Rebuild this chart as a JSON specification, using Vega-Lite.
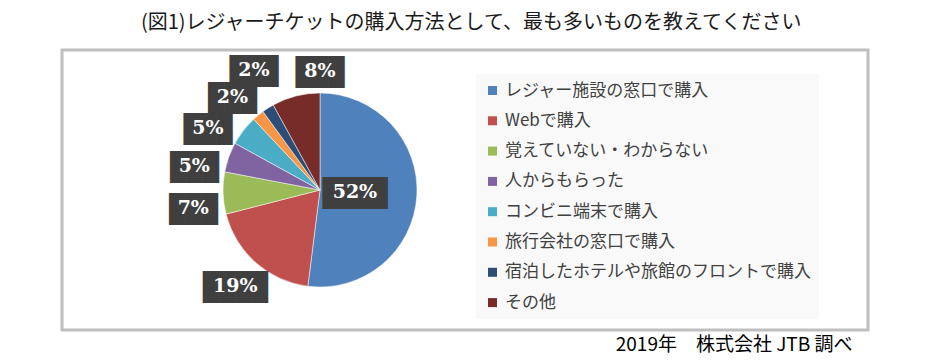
{
  "$schema": "https://vega.github.io/schema/vega-lite/v6.json",
  "autosize": "none",
  "width": 806,
  "height": 280,
  "padding": {"left": 62, "top": 50, "right": 66, "bottom": 31},
  "background": "#ffffff",
  "title": {
    "text": "(図1)レジャーチケットの購入方法として、最も多いものを教えてください",
    "font": "Noto Sans CJK JP",
    "fontSize": 20,
    "fontWeight": "normal",
    "color": "#1a1a1a",
    "anchor": "start",
    "dx": 79,
    "offset": 17
  },
  "config": {
    "view": {"stroke": "#bfbfbf", "strokeWidth": 3},
    "font": "Noto Sans CJK JP"
  },
  "data": {
    "values": [
      {"category": "レジャー施設の窓口で購入", "value": 52, "label": "52%", "order": 1},
      {"category": "Webで購入", "value": 19, "label": "19%", "order": 2},
      {"category": "覚えていない・わからない", "value": 7, "label": "7%", "order": 3},
      {"category": "人からもらった", "value": 5, "label": "5%", "order": 4},
      {"category": "コンビニ端末で購入", "value": 5, "label": "5%", "order": 5},
      {"category": "旅行会社の窓口で購入", "value": 2, "label": "2%", "order": 6},
      {"category": "宿泊したホテルや旅館のフロントで購入", "value": 2, "label": "2%", "order": 7},
      {"category": "その他", "value": 8, "label": "8%", "order": 8}
    ]
  },
  "transform": [
    {"stack": "value", "groupby": [], "sort": [{"field": "order", "order": "ascending"}], "as": ["v0", "v1"]},
    {"calculate": "(datum.v0 + datum.v1) / 2", "as": "mid"},
    {"calculate": "datum.order == 3 ? (datum.v0 + datum.mid) / 2 : (datum.order >= 4 && datum.order <= 6) ? datum.v0 : datum.order >= 7 ? datum.v1 : datum.mid", "as": "lt"}
  ],
  "layer": [
    {
      "mark": {"type": "arc", "x": 258, "y": 140, "radius": 97, "stroke": "#ffffff", "strokeWidth": 0.5},
      "encoding": {
        "theta": {"field": "v0", "type": "quantitative", "scale": {"domain": [0, 100]}},
        "theta2": {"field": "v1"},
        "color": {
          "field": "category",
          "type": "nominal",
          "sort": {"field": "order"},
          "scale": {
            "domain": ["レジャー施設の窓口で購入", "Webで購入", "覚えていない・わからない", "人からもらった", "コンビニ端末で購入", "旅行会社の窓口で購入", "宿泊したホテルや旅館のフロントで購入", "その他"],
            "range": ["#4f81bd", "#c0504d", "#9bbb59", "#8064a2", "#4bacc6", "#f79646", "#2c4d75", "#772c2a"]
          },
          "legend": {
            "title": null,
            "orient": "none",
            "legendX": 414,
            "legendY": 24,
            "fillColor": "#f9f9f9",
            "padding": 8,
            "symbolType": "square",
            "symbolSize": 81,
            "symbolStrokeWidth": 0,
            "labelFont": "Noto Sans CJK JP",
            "labelFontSize": 17,
            "labelColor": "#404040",
            "labelOffset": 4,
            "labelLimit": 400,
            "rowPadding": 12.3
          }
        }
      }
    },
    {
      "transform": [{"filter": "datum.order >= 2 && datum.order <= 6"}],
      "encoding": {
        "theta": {"field": "lt", "type": "quantitative", "scale": {"domain": [0, 100]}}
      },
      "layer": [
        {
          "mark": {"type": "text", "x": 258, "y": 140, "radius": 128, "font": "DejaVu Sans Mono", "fontSize": 27, "color": "#3f3f3f", "baseline": "middle", "align": "center", "dy": 2},
          "encoding": {"text": {"condition": {"test": "length(datum.label) > 2", "value": "████"}, "value": "███"}}
        },
        {
          "mark": {"type": "text", "x": 258, "y": 140, "radius": 128, "font": "DejaVu Serif", "fontWeight": "bold", "fontSize": 19, "color": "#ffffff", "baseline": "middle", "align": "center"},
          "encoding": {"text": {"field": "label"}}
        }
      ]
    },
    {
      "transform": [{"filter": "datum.order == 7"}],
      "encoding": {
        "theta": {"field": "lt", "type": "quantitative", "scale": {"domain": [0, 100]}}
      },
      "layer": [
        {
          "mark": {"type": "text", "x": 258, "y": 140, "radius": 137, "font": "DejaVu Sans Mono", "fontSize": 27, "color": "#3f3f3f", "baseline": "middle", "align": "center", "dy": 2},
          "encoding": {"text": {"value": "███"}}
        },
        {
          "mark": {"type": "text", "x": 258, "y": 140, "radius": 137, "font": "DejaVu Serif", "fontWeight": "bold", "fontSize": 19, "color": "#ffffff", "baseline": "middle", "align": "center"},
          "encoding": {"text": {"field": "label"}}
        }
      ]
    },
    {
      "transform": [{"filter": "datum.order == 8"}],
      "encoding": {
        "theta": {"field": "lt", "type": "quantitative", "scale": {"domain": [0, 100]}}
      },
      "layer": [
        {
          "mark": {"type": "text", "x": 258, "y": 140, "radius": 119, "font": "DejaVu Sans Mono", "fontSize": 27, "color": "#3f3f3f", "baseline": "middle", "align": "center", "dy": 2},
          "encoding": {"text": {"value": "███"}}
        },
        {
          "mark": {"type": "text", "x": 258, "y": 140, "radius": 119, "font": "DejaVu Serif", "fontWeight": "bold", "fontSize": 19, "color": "#ffffff", "baseline": "middle", "align": "center"},
          "encoding": {"text": {"field": "label"}}
        }
      ]
    },
    {
      "transform": [{"filter": "datum.order == 1"}],
      "encoding": {
        "theta": {"field": "lt", "type": "quantitative", "scale": {"domain": [0, 100]}}
      },
      "layer": [
        {
          "mark": {"type": "text", "x": 258, "y": 140, "radius": 35, "font": "DejaVu Sans Mono", "fontSize": 27, "color": "#3f3f3f", "baseline": "middle", "align": "center", "dy": 2},
          "encoding": {"text": {"value": "████"}}
        },
        {
          "mark": {"type": "text", "x": 258, "y": 140, "radius": 35, "font": "DejaVu Serif", "fontWeight": "bold", "fontSize": 19, "color": "#ffffff", "baseline": "middle", "align": "center"},
          "encoding": {"text": {"field": "label"}}
        }
      ]
    },
    {
      "mark": {"type": "rule", "strokeOpacity": 0},
      "encoding": {
        "x": {
          "datum": 0,
          "type": "quantitative",
          "axis": {
            "title": "2019年　株式会社 JTB 調べ",
            "titleFont": "Noto Sans CJK JP",
            "titleFontSize": 19,
            "titleFontWeight": "normal",
            "titleColor": "#000000",
            "titleAnchor": "end",
            "titleX": 790,
            "titleAlign": "right",
            "titlePadding": 5,
            "labels": false,
            "ticks": false,
            "domain": false,
            "grid": false
          }
        }
      }
    }
  ]
}
